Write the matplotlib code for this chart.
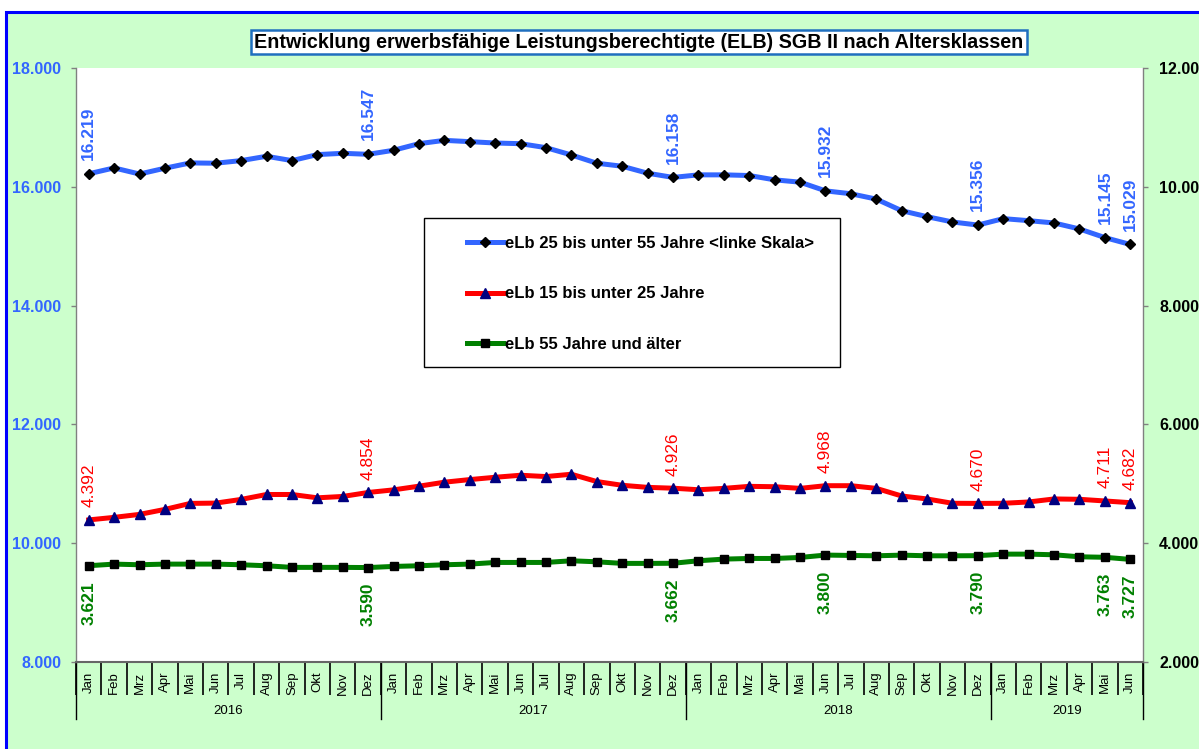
import numpy as np
import matplotlib
matplotlib.use("Agg")
import matplotlib.pyplot as plt
from matplotlib.patches import Rectangle
from matplotlib.lines import Line2D
import matplotlib.transforms as mtransforms

plt.rcParams['font.family'] = ['Liberation Sans', 'DejaVu Sans']

# ---------------- data ----------------
months = ["Jan", "Feb", "Mrz", "Apr", "Mai", "Jun", "Jul", "Aug", "Sep", "Okt", "Nov", "Dez"] * 3 + \
         ["Jan", "Feb", "Mrz", "Apr", "Mai", "Jun"]
years = ["2016", "2017", "2018", "2019"]
year_lengths = [12, 12, 12, 6]

elb_25_55 = [16219, 16318, 16215, 16313, 16402, 16397, 16441, 16514, 16441, 16542, 16564, 16547,
             16615, 16726, 16782, 16760, 16737, 16726, 16659, 16536, 16397, 16346, 16229, 16158,
             16201, 16201, 16190, 16117, 16078, 15932, 15883, 15793, 15598, 15497, 15408, 15356,
             15464, 15430, 15391, 15290, 15145, 15029]
elb_15_25 = [4392, 4435, 4485, 4569, 4670, 4675, 4737, 4820, 4820, 4764, 4787, 4854,
             4898, 4960, 5027, 5071, 5110, 5144, 5122, 5161, 5038, 4975, 4940, 4926,
             4900, 4923, 4957, 4951, 4923, 4968, 4968, 4923, 4795, 4745, 4672, 4670,
             4672, 4694, 4745, 4739, 4711, 4682]
elb_55 = [3621, 3648, 3637, 3648, 3648, 3648, 3637, 3620, 3593, 3593, 3593, 3590,
          3609, 3620, 3637, 3648, 3676, 3676, 3676, 3704, 3687, 3660, 3660, 3662,
          3704, 3732, 3743, 3743, 3760, 3800, 3794, 3788, 3799, 3788, 3788, 3790,
          3816, 3816, 3805, 3771, 3763, 3727]
labelled = [0, 11, 23, 29, 35, 40, 41]

series_names = ["eLb 25 bis unter 55 Jahre <linke Skala>",
                "eLb 15 bis unter 25 Jahre",
                "eLb 55 Jahre und älter"]
title = "Entwicklung erwerbsfähige Leistungsberechtigte (ELB) SGB II nach Altersklassen"

# ---------------- style ----------------
BLUE = "#3366FF"
RED = "#FF0000"
GREEN = "#008000"
BG = "#CCFFCC"
W, H = 1199, 749


def fx(px):
    return px / W


def fy(py):
    return 1 - py / H


def fmt(v):
    return f"{v:,.0f}".replace(",", ".")


fig = plt.figure(figsize=(W / 100, H / 100), dpi=100)
fig.patch.set_facecolor("white")

# outer green panel with blue border
fig.patches.append(Rectangle((fx(6), fy(770)), fx(1230) - fx(6), fy(12) - fy(770),
                             transform=fig.transFigure, facecolor=BG, edgecolor="#0000FF",
                             linewidth=2.2, zorder=-1))

ax = fig.add_axes([fx(76), fy(662), fx(1143) - fx(76), fy(68) - fy(662)])
ax.set_facecolor("white")
ax2 = ax.twinx()

x = np.arange(len(months))

ax.plot(x, elb_25_55, color=BLUE, lw=3.6, marker="D", ms=5, mfc="black", mec="black",
        label=series_names[0], zorder=3)
ax2.plot(x, elb_15_25, color=RED, lw=3.6, marker="^", ms=7.5, mfc="#000080", mec="#000080",
         label=series_names[1], zorder=3)
ax2.plot(x, elb_55, color=GREEN, lw=3.6, marker="s", ms=6, mfc="black", mec="black",
         label=series_names[2], zorder=3)

ax.set_xlim(-0.5, len(months) - 0.5)
ax.set_ylim(8000, 18000)
ax2.set_ylim(2000, 12000)

ax.set_yticks(np.arange(8000, 18001, 2000))
ax.set_yticklabels([fmt(v) for v in np.arange(8000, 18001, 2000)])
ax2.set_yticks(np.arange(2000, 12001, 2000))
ax2.set_yticklabels([fmt(v) for v in np.arange(2000, 12001, 2000)])

ax.tick_params(axis="y", length=3.6, width=1, color="#808080", pad=7,
               labelcolor=BLUE, labelsize=11.5)
ax2.tick_params(axis="y", length=3.6, width=1, color="#808080", pad=8,
                labelcolor="black", labelsize=11.5)
for lbl in ax.get_yticklabels() + ax2.get_yticklabels():
    lbl.set_fontweight("bold")

# x axis: months
ax.set_xticks(x)
ax.set_xticklabels(months, rotation=90, fontsize=9.5)
ax.tick_params(axis="x", which="major", length=0, pad=7)
ax.set_xticks(np.arange(-0.5, len(months), 1), minor=True)
ax.tick_params(axis="x", which="minor", length=24, width=1.2, color="black", direction="out")

for s in ax.spines.values():
    s.set_visible(False)
ax2.spines["top"].set_visible(False)
ax2.spines["left"].set_color("#808080")
ax2.spines["right"].set_color("#808080")
ax2.spines["left"].set_linewidth(1.0)
ax2.spines["right"].set_linewidth(1.0)
ax2.spines["bottom"].set_color("#666666")
ax2.spines["bottom"].set_linewidth(1.5)

# year groups
trans = mtransforms.blended_transform_factory(ax.transData, ax.transAxes)
sep_bottom = (662 - 719) / (662 - 68)
year_y = (662 - 711) / (662 - 68)
start = 0
bounds = [-0.5]
for yr, n in zip(years, year_lengths):
    ax.text(start + (n - 1) / 2, year_y, yr, transform=trans, ha="center", va="center",
            fontsize=9.5)
    start += n
    bounds.append(start - 0.5)
for b in bounds:
    ax.add_line(Line2D([b, b], [0, sep_bottom], transform=trans, color="black", lw=1.0,
                       clip_on=False))

# data labels
box = dict(boxstyle="square,pad=0.2", fc="white", ec="none")
for i in labelled:
    ax2.annotate(fmt(elb_25_55[i]), xy=(i, elb_25_55[i]), xycoords=ax.transData,
                 xytext=(0, 10), textcoords="offset points", rotation=90, ha="center",
                 va="bottom", color=BLUE, fontsize=12.5, fontweight="bold", bbox=box,
                 annotation_clip=False, zorder=4)
    ax2.annotate(fmt(elb_15_25[i]), xy=(i, elb_15_25[i]), xytext=(0, 9),
                 textcoords="offset points", rotation=90, ha="center", va="bottom",
                 color=RED, fontsize=12.5, bbox=box, annotation_clip=False, zorder=4)
    ax2.annotate(fmt(elb_55[i]), xy=(i, elb_55[i]), xytext=(0, -11),
                 textcoords="offset points", rotation=90, ha="center", va="top",
                 color=GREEN, fontsize=12.5, fontweight="bold", bbox=box,
                 annotation_clip=False, zorder=4)

# title
fig.text(fx(639), fy(42), title, ha="center", va="center", fontsize=14.2, fontweight="bold",
         bbox=dict(boxstyle="square,pad=0.15", fc="white", ec="#1F6FBF", lw=1.8), zorder=6)

# legend
fig.patches.append(Rectangle((fx(424), fy(367)), fx(840) - fx(424), fy(218) - fy(367),
                             transform=fig.transFigure, facecolor="white", edgecolor="black",
                             linewidth=1.0, zorder=4))
h1, l1 = ax.get_legend_handles_labels()
h2, l2 = ax2.get_legend_handles_labels()
leg = fig.legend(h1 + h2, l1 + l2, loc="upper left", bbox_to_anchor=(fx(467), fy(236)),
                 frameon=False, prop=dict(weight="bold", size=12), handlelength=2.15,
                 handletextpad=0.15, labelspacing=2.13, borderpad=0, borderaxespad=0)
leg.set_zorder(5)

fig.savefig("out.png", dpi=100)
